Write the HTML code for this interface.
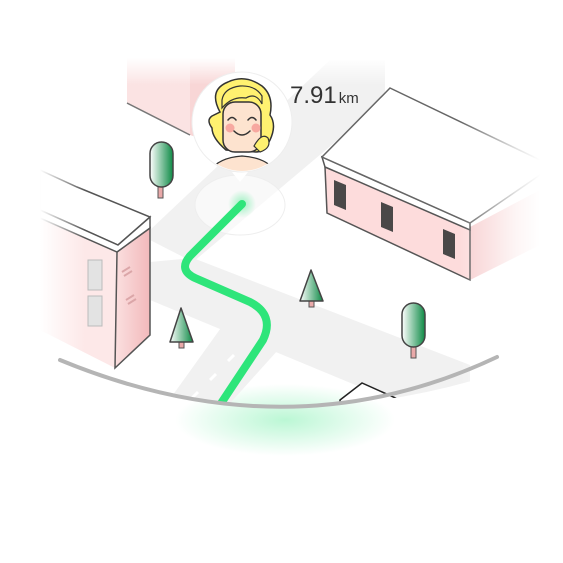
<!DOCTYPE html>
<html><head><meta charset="utf-8"><style>
html,body{margin:0;padding:0;background:#fff;width:563px;height:563px;overflow:hidden}
svg{display:block}
</style></head><body>
<svg width="563" height="563" viewBox="0 0 563 563">
<defs>
<clipPath id="scene"><path d="M40,40 L540,40 L540,358 Q290,455 40,358 Z"/></clipPath>
<linearGradient id="fadeL" x1="0" x2="1"><stop offset="0" stop-color="#fff" stop-opacity="1"/><stop offset="1" stop-color="#fff" stop-opacity="0"/></linearGradient>
<linearGradient id="fadeR" x1="1" x2="0"><stop offset="0" stop-color="#fff" stop-opacity="1"/><stop offset="0.3" stop-color="#fff" stop-opacity="0.8"/><stop offset="1" stop-color="#fff" stop-opacity="0"/></linearGradient>
<linearGradient id="fadeT" x1="0" y1="0" x2="0" y2="1"><stop offset="0" stop-color="#fff" stop-opacity="1"/><stop offset="0.4" stop-color="#fff" stop-opacity="1"/><stop offset="1" stop-color="#fff" stop-opacity="0"/></linearGradient>
<linearGradient id="tree" x1="0" x2="1"><stop offset="0" stop-color="#fff"/><stop offset="1" stop-color="#0d8a45"/></linearGradient>
<linearGradient id="pinkR" x1="0" x2="1"><stop offset="0" stop-color="#fbe0e0"/><stop offset="1" stop-color="#f2b9bb"/></linearGradient>
<radialGradient id="glow" cx="0.5" cy="0.5" r="0.5"><stop offset="0" stop-color="#3de886" stop-opacity="0.35"/><stop offset="1" stop-color="#3de886" stop-opacity="0"/></radialGradient>
<radialGradient id="dotglow" cx="0.5" cy="0.5" r="0.5"><stop offset="0" stop-color="#3de886" stop-opacity="0.5"/><stop offset="1" stop-color="#3de886" stop-opacity="0"/></radialGradient>
</defs>

<ellipse cx="285" cy="420" rx="110" ry="36" fill="url(#glow)"/>

<g clip-path="url(#scene)">
  <g fill="#f1f1f1">
    <polygon points="330,60 385,60 385,100 193,262 150,240 150,230"/>
    <polygon points="150,262 193,258 470,365 470,420 440,420 150,300"/>
    <polygon points="223,325 278,350 215,420 155,420"/>
  </g>
  <g stroke="#fff" stroke-width="3">
    <line x1="234" y1="355" x2="228" y2="361"/><line x1="216" y1="374" x2="210" y2="380"/><line x1="198" y1="392" x2="192" y2="398"/>
  </g>

  <g>
    <polygon points="127,40 190,40 190,135 127,103" fill="#fbe3e3"/>
    <polygon points="190,40 235,40 235,150 190,135" fill="#f8d6d6"/>
    <line x1="127" y1="103" x2="190" y2="135" stroke="#777" stroke-width="1.5"/>
  </g>

  <g>
    <polygon points="40,200 117,252 115,368 40,330" fill="#fde8e8"/>
    <polygon points="117,252 150,228 150,335 115,368" fill="url(#pinkR)" stroke="#555" stroke-width="1.5"/>
    <polygon points="40,170 77,187 150,217 118,245 40,210" fill="#fff" stroke="#555" stroke-width="1.5"/>
    <polygon points="40,210 118,245 150,217 150,228 117,252 40,218" fill="#fff" stroke="#555" stroke-width="1.5"/>
    <rect x="88" y="260" width="14" height="30" fill="#e3e3e3" stroke="#bbb"/>
    <rect x="88" y="296" width="14" height="30" fill="#e3e3e3" stroke="#bbb"/>
    <path d="M122,272 l8,-5 M124,276 l8,-5 M126,300 l8,-5 M128,304 l8,-5" stroke="#dba6a8" stroke-width="2"/>
  </g>

  <g>
    <polygon points="470,227 540,190 540,245 470,280" fill="#f7cfd0"/>
    <polygon points="325,167 470,227 470,280 327,213" fill="#fddcdc" stroke="#555" stroke-width="1.5"/>
    <polygon points="322,157 470,223 470,230 325,167" fill="#fff" stroke="#555" stroke-width="1.5"/>
    <polygon points="390,88 540,160 540,175 470,223 322,157" fill="#fff" stroke="#666" stroke-width="1.5"/>
    <polygon points="334,180 346,185 346,210 334,205" fill="#4a4848"/>
    <polygon points="381,202 393,207 393,232 381,227" fill="#4a4848"/>
    <polygon points="443,229 455,234 455,259 443,254" fill="#4a4848"/>
  </g>

  <g>
    <polygon points="340,400 362,383 400,400 400,420 340,420" fill="#fff" stroke="#222" stroke-width="1.5"/>
  </g>

  <g>
    <rect x="158" y="185" width="5" height="13" fill="#e9a9a9" stroke="#555"/>
    <rect x="150" y="142" width="23" height="45" rx="11.5" fill="url(#tree)" stroke="#444" stroke-width="1.5"/>
  </g>
  <g>
    <rect x="411" y="345" width="5" height="13" fill="#e9a9a9" stroke="#555"/>
    <rect x="402" y="303" width="23" height="44" rx="11.5" fill="url(#tree)" stroke="#444" stroke-width="1.5"/>
  </g>
  <g>
    <rect x="309" y="300" width="5" height="7" fill="#e9a9a9" stroke="#555"/>
    <polygon points="311,270 323,301 300,301" fill="url(#tree)" stroke="#444" stroke-width="1.5" stroke-linejoin="round"/>
  </g>
  <g>
    <rect x="179" y="341" width="5" height="7" fill="#e9a9a9" stroke="#555"/>
    <polygon points="181,308 193,342 170,342" fill="url(#tree)" stroke="#444" stroke-width="1.5" stroke-linejoin="round"/>
  </g>

  <ellipse cx="240" cy="205" rx="45" ry="30" fill="#fff" fill-opacity="0.6" stroke="#eee"/>
  <circle cx="242" cy="204" r="14" fill="url(#dotglow)"/>
  <path d="M242,204 L190,256 Q178,270 195,278 L250,302 Q275,315 263,340 L210,420" fill="none" stroke="#2ee57a" stroke-width="8" stroke-linecap="round" stroke-linejoin="round"/>

  <rect x="40" y="40" width="540" height="45" fill="url(#fadeT)"/>
  <rect x="40" y="40" width="45" height="400" fill="url(#fadeL)"/>
  <rect x="460" y="40" width="80" height="400" fill="url(#fadeR)"/>
</g>

<path d="M60,360 Q290,455 497,357" fill="none" stroke="#b5b5b5" stroke-width="4" stroke-linecap="round"/>

<g>
  <polygon points="232,172 248,172 240,182" fill="#fff"/>
  <circle cx="242" cy="122" r="50" fill="#fff" stroke="#eee"/>
  <clipPath id="avc"><circle cx="242" cy="122" r="49"/></clipPath>
  <g clip-path="url(#avc)">
    <path d="M208,175 Q215,158 242,156 Q270,158 277,175 Z" fill="#fde3cf" stroke="#333" stroke-width="1.2"/>
    <path d="M220,112 Q208,90 228,82 Q245,74 262,86 Q274,96 270,115 Q277,125 270,140 Q264,152 256,152 L226,150 Q212,138 212,128 Q206,120 212,116 Z" fill="#fff170" stroke="#333" stroke-width="1.5"/>
    <rect x="223" y="102" width="38" height="50" rx="12" fill="#fde3cf" stroke="#333" stroke-width="1.5"/>
    <path d="M222,108 Q232,96 246,98 Q256,92 262,104 L262,96 Q255,85 240,86 Q224,88 222,100 Z" fill="#fff170" stroke="#333" stroke-width="1.2"/>
    <path d="M254,146 Q262,132 268,138 Q272,148 260,152 Z" fill="#fff170" stroke="#333" stroke-width="1.2"/>
    <circle cx="230" cy="128" r="4.5" fill="#f7a8a0"/><circle cx="256" cy="128" r="4.5" fill="#f7a8a0"/>
    <path d="M228,120 Q232,115 236,120 M248,120 Q252,115 256,120 M234,131 Q242,139 250,131" fill="none" stroke="#333" stroke-width="1.5" stroke-linecap="round"/>
  </g>
</g>

<text x="290" y="103" font-family="'Liberation Sans', sans-serif" fill="#333"><tspan font-size="24">7.91</tspan><tspan font-size="15" dx="2">km</tspan></text>
</svg>
</body></html>
